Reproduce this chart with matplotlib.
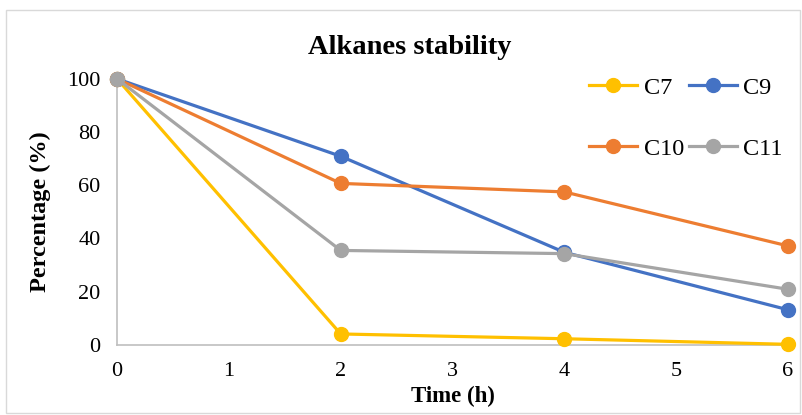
import matplotlib.pyplot as plt
from matplotlib.patches import Rectangle

plt.rcParams['font.family'] = ['Liberation Serif', 'DejaVu Serif']

# data
time_h = [0, 2, 4, 6]
c7 = [100, 4.1, 2.3, 0.2]
c9 = [100, 70.9, 34.8, 13.2]
c10 = [100, 60.7, 57.5, 37.2]
c11 = [100, 35.5, 34.3, 20.9]

series = [('C7', c7, '#FFC000'), ('C9', c9, '#4472C4'),
          ('C10', c10, '#ED7D31'), ('C11', c11, '#A5A5A5')]

fig = plt.figure(figsize=(8.02, 4.15), dpi=100)
ax = fig.add_axes([0.146, 0.169, 0.8365, 0.641])

handles = {}
for name, vals, col in series:
    h, = ax.plot(time_h, vals, color=col, lw=2.3, marker='o', ms=10,
                 label=name, clip_on=False, zorder=3)
    handles[name] = h

ax.set_xlim(0, 6)
ax.set_ylim(0, 100)
ax.set_xticks(range(0, 7))
ax.set_yticks(range(0, 101, 20))
ax.tick_params(length=0, labelsize=16, pad=12)
for s in ['top', 'right']:
    ax.spines[s].set_visible(False)
for s in ['left', 'bottom']:
    ax.spines[s].set_color('#BFBFBF')
    ax.spines[s].set_linewidth(1.2)

fig.text(0.511, 0.885, 'Alkanes stability', ha='center', va='center',
         fontsize=20.5, fontweight='bold')
fig.text(0.05, 0.49, 'Percentage (%)', ha='center', va='center',
         rotation=90, fontsize=17.5, fontweight='bold')
fig.text(0.565, 0.045, 'Time (h)', ha='center', va='center',
         fontsize=16.5, fontweight='bold')

# column-major fill: order so rows read C7 C9 / C10 C11
order = ['C7', 'C10', 'C9', 'C11']
ax.legend([handles[k] for k in order], order, ncol=2, loc='upper right',
          bbox_to_anchor=(1.025, 1.09), frameon=False, fontsize=17.5,
          handlelength=2.0, columnspacing=0.2, handletextpad=0.25,
          labelspacing=1.6)

fig.patches.append(Rectangle((0.008, 0.005), 0.99, 0.972, transform=fig.transFigure,
                             fill=False, edgecolor='#D9D9D9', lw=1))

fig.savefig('out.png', dpi=100)
